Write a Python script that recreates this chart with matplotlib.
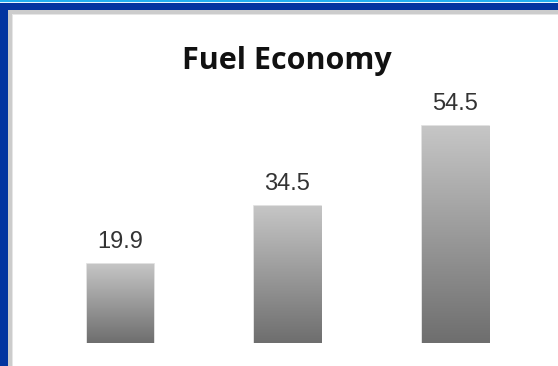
import numpy as np
import matplotlib.pyplot as plt
from matplotlib.patches import Rectangle
from matplotlib.colors import LinearSegmentedColormap

W, H = 558, 366
DPI = 100

title = "Fuel Economy"
labels = ["A", "B", "C"]
values = [19.9, 34.5, 54.5]

fig = plt.figure(figsize=(W / DPI, H / DPI), dpi=DPI)
fig.patch.set_facecolor("white")


def px_rect(x0, y0, x1, y1, color, z=0):
    # rectangle given in pixel coords from top-left
    fig.add_artist(Rectangle((x0 / W, 1 - y1 / H), (x1 - x0) / W, (y1 - y0) / H,
                             transform=fig.transFigure, facecolor=color,
                             edgecolor="none", zorder=z))


# window frame
px_rect(0, 0, W, 2, "#22b0ee")
px_rect(0, 2, W, 3, "#e8f6fd")
px_rect(0, 3, W, 10, "#0335a0")
px_rect(0, 3, 8, H, "#0335a0")
px_rect(8, 10, W, 14, "#cccccc")
px_rect(8, 10, 12, H, "#cccccc")
px_rect(12, 14, W, 15, "#e6e6e6")
px_rect(12, 14, 13, H, "#e6e6e6")

# axes: baseline at y=343 px, top at 15 px
base, top = 343, 15
scale = 3.975
ax = fig.add_axes([0, (H - base) / H, 1, (base - top) / H])
ax.set_facecolor("none")
spacing = 167.5
ax.axis("off")

x = np.arange(len(values))
bars = ax.bar(x, values, width=0.4, color="none", edgecolor="#dcdcdc", linewidth=1.2)

cmap = LinearSegmentedColormap.from_list("g", ["#6e6e6e", "#c6c6c6"])
grad = np.linspace(0, 1, 256).reshape(-1, 1)
for b in bars:
    x0, w, h = b.get_x(), b.get_width(), b.get_height()
    im = ax.imshow(grad, cmap=cmap, origin="lower", aspect="auto",
                   extent=[x0, x0 + w, 0, h], zorder=2)
    im.set_clip_path(b)
    ax.text(x0 + w / 2, h + 2.8, f"{h:.1f}", ha="center", va="bottom",
            fontsize=17, color="#333333", family="Liberation Sans")

ax.set_xlim(-120 / spacing, (W - 120) / spacing)
ax.set_ylim(0, (base - top) / scale)

fig.text(287 / W, 1 - 69 / H, title, ha="center", va="baseline",
         fontsize=22, fontweight="bold", family="Open Sans", color="#111111")

fig.savefig("out.png", dpi=DPI)
